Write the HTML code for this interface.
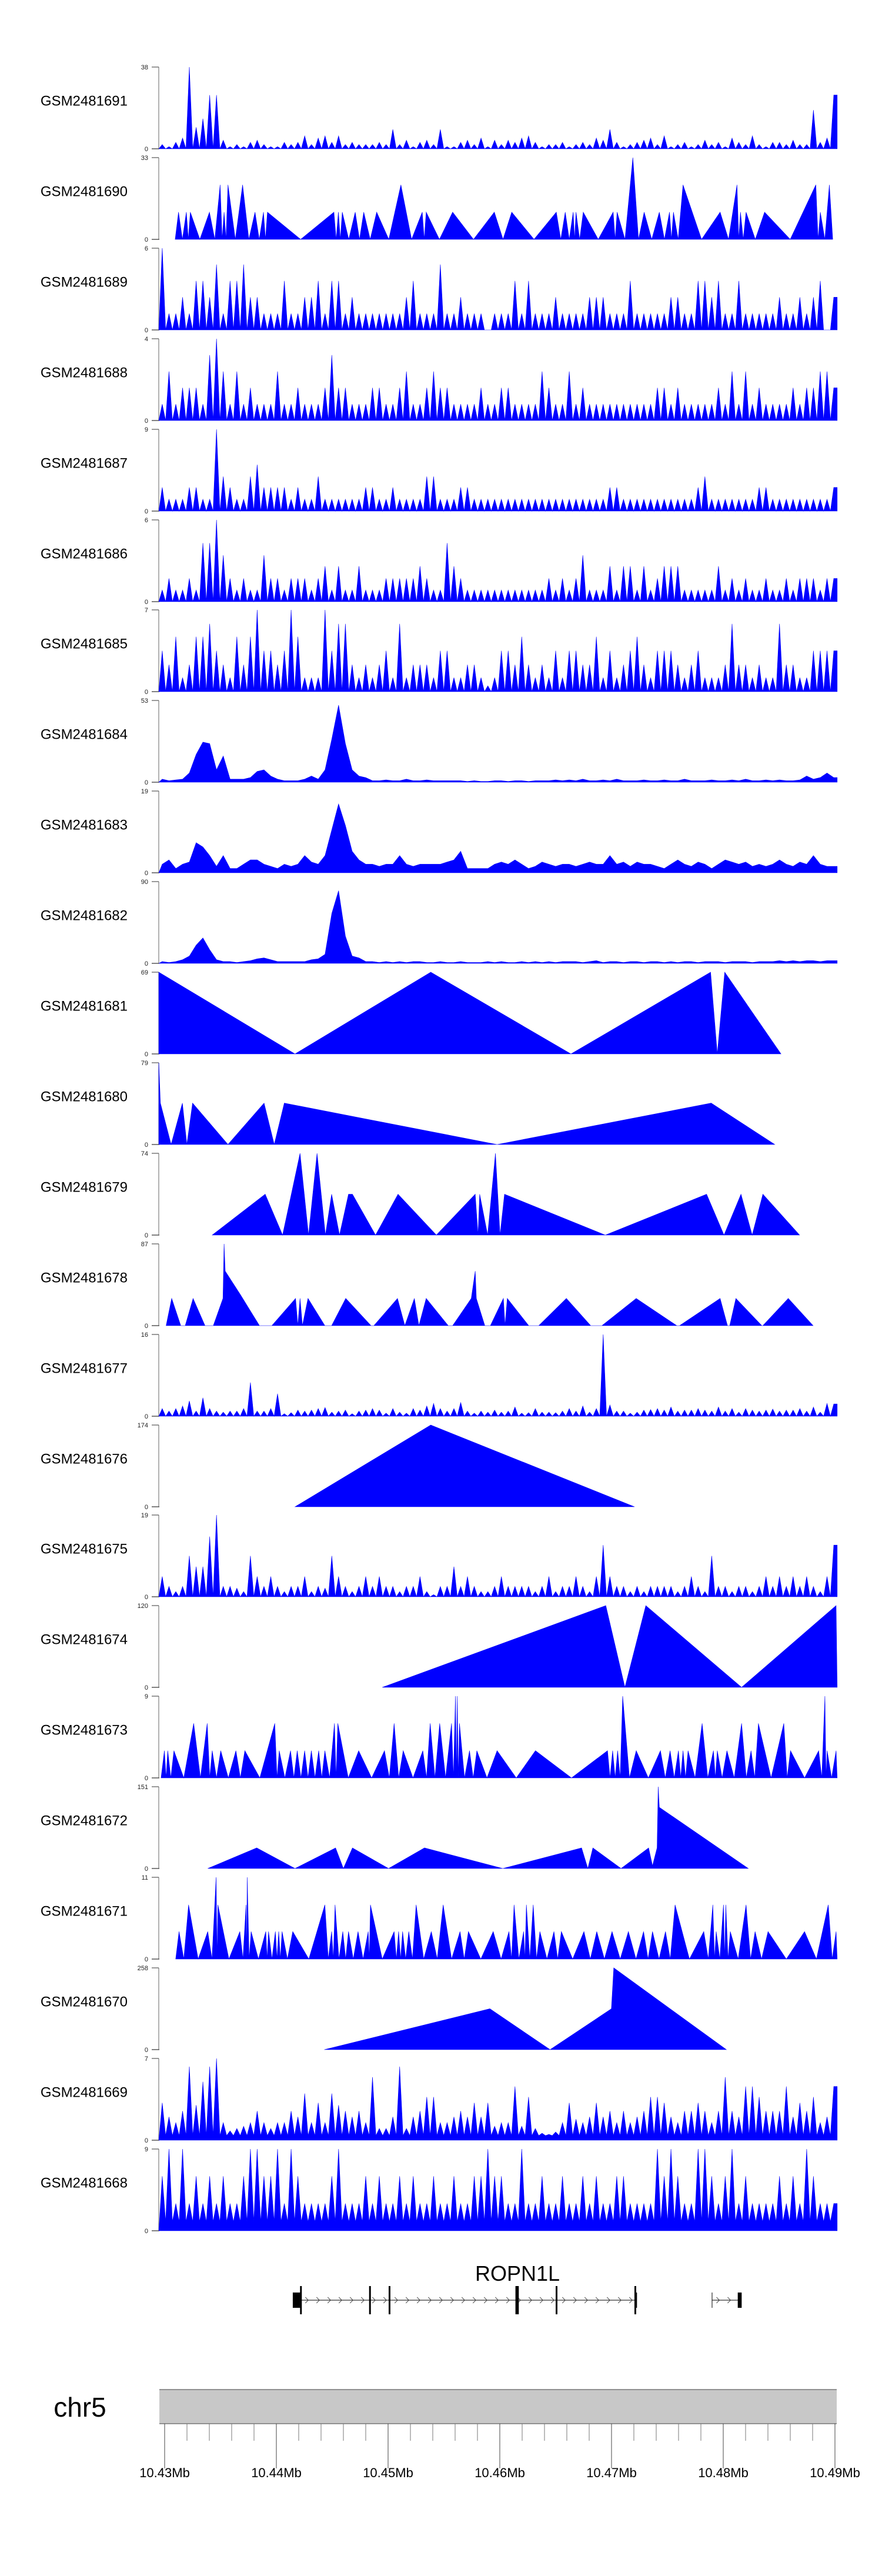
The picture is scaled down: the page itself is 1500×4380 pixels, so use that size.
<!DOCTYPE html>
<html><head><meta charset="utf-8"><title>Coverage tracks chr5</title>
<style>html,body{margin:0;padding:0;background:#fff;}svg{display:block;font-family:"Liberation Sans",Arial,sans-serif;}</style>
</head><body>
<svg id="chart" width="1500" height="4380" viewBox="0 0 1500 4380" xmlns="http://www.w3.org/2000/svg">
<g id="tracks"></g>
<g id="gene"></g>
<g id="ideo"></g>
</svg>
<script>
// ---- data (positions in kb offset from 10.43 Mb) ----
const d1691 = [2,1,3,5,38,10,14,25,25,4, 1,2,1,3,4,2,1,1,3,2, 3,6,2,5,6,3,6,2,3,2, 2,2,3,2,9,2,4,1,3,4, 2,9,1,1,3,4,2,5,1,4, 2,4,3,5,6,3,1,2,2,3, 1,2,3,2,5,4,9,3,1,2, 3,4,5,2,6,1,2,3,1,2, 4,2,3,1,5,3,2,6,2,1, 3,3,2,4,2,2,18,3,5,25];
const pk1690pos = [1.24,1.94,2.30,4.01,4.97,5.32,5.67,6.98,8.09,8.85,9.20,15.15,15.55,15.90,17.06,17.82,18.98,21.15,23.06,23.41,25.78,29.51,31.07,35.06,35.86,36.57,36.82,37.47,40.15,40.50,41.91,42.92,44.28,45.19,45.54,46.40,49.72,51.23,51.54,52.04,53.70,58.29,58.69,59.50];
const pk1690val = [11,11,11,11,22,11,22,22,11,11,11,11,11,11,11,11,11,22,11,11,11,11,11,11,11,11,11,11,11,11,33,11,11,11,11,22,11,22,11,11,11,22,11,22];
const d1689 = [6,1.2,1.2,2.4,1.2,3.6,3.6,2.4,4.8,1.2, 3.6,3.6,4.8,2.4,2.4,1.2,1.2,1.2,3.6,1.2, 1.2,2.4,2.4,3.6,1.2,3.6,3.6,1.2,2.4,1.2, 1.2,1.2,1.2,1.2,1.2,1.2,2.4,3.6,1.2,1.2, 1.2,4.8,1.2,1.2,2.4,1.2,1.2,1.2,0,1.2, 1.2,1.2,3.6,1.2,3.6,1.2,1.2,1.2,2.4,1.2, 1.2,1.2,1.2,2.4,2.4,2.4,1.2,1.2,1.2,3.6, 1.2,1.2,1.2,1.2,1.2,2.4,2.4,1.2,1.2,3.6, 3.6,2.4,3.6,1.2,1.2,3.6,1.2,1.2,1.2,1.2, 1.2,2.4,1.2,1.2,2.4,1.2,2.4,3.6,0,2.4];
const d1688 = [0.8,2.4,0.8,1.6,1.6,1.6,0.8,3.2,4,2.4, 0.8,2.4,0.8,1.6,0.8,0.8,0.8,2.4,0.8,0.8, 1.6,0.8,0.8,0.8,1.6,3.2,1.6,1.6,0.8,0.8, 0.8,1.6,1.6,0.8,0.8,1.6,2.4,0.8,0.8,1.6, 2.4,1.6,1.6,0.8,0.8,0.8,0.8,1.6,0.8,0.8, 1.6,1.6,0.8,0.8,0.8,0.8,2.4,1.6,0.8,0.8, 2.4,0.8,1.6,0.8,0.8,0.8,0.8,0.8,0.8,0.8, 0.8,0.8,0.8,1.6,1.6,0.8,1.6,0.8,0.8,0.8, 0.8,0.8,1.6,0.8,2.4,0.8,2.4,0.8,1.6,0.8, 0.8,0.8,0.8,1.6,0.8,1.6,1.6,2.4,2.4,1.6];
const d1687 = [2.6,1.3,1.3,1.3,2.6,2.6,1.3,1.3,9,3.8, 2.6,1.3,1.3,3.8,5.1,2.6,2.6,2.6,2.6,1.3, 2.6,1.3,1.3,3.8,1.3,1.3,1.3,1.3,1.3,1.3, 2.6,2.6,1.3,1.3,2.6,1.3,1.3,1.3,1.3,3.8, 3.8,1.3,1.3,1.3,2.6,2.6,1.3,1.3,1.3,1.3, 1.3,1.3,1.3,1.3,1.3,1.3,1.3,1.3,1.3,1.3, 1.3,1.3,1.3,1.3,1.3,1.3,2.6,2.6,1.3,1.3, 1.3,1.3,1.3,1.3,1.3,1.3,1.3,1.3,1.3,2.6, 3.8,1.3,1.3,1.3,1.3,1.3,1.3,1.3,2.6,2.6, 1.3,1.3,1.3,1.3,1.3,1.3,1.3,1.3,1.3,2.6];
const d1686 = [0.85,1.7,0.85,0.85,1.7,0.85,4.3,4.3,6,3.4, 1.7,0.85,1.7,0.85,0.85,3.4,1.7,1.7,0.85,1.7, 1.7,1.7,0.85,1.7,2.6,0.85,2.6,0.85,0.85,2.6, 0.85,0.85,0.85,1.7,1.7,1.7,1.7,1.7,2.6,1.7, 0.85,0.85,4.3,2.6,1.7,0.85,0.85,0.85,0.85,0.85, 0.85,0.85,0.85,0.85,0.85,0.85,0.85,1.7,0.85,1.7, 0.85,1.7,3.4,0.85,0.85,0.85,2.6,0.85,2.6,2.6, 0.85,2.6,0.85,1.7,2.6,2.6,2.6,0.85,0.85,0.85, 0.85,0.85,2.6,0.85,1.7,0.85,1.7,0.85,0.85,1.7, 0.85,0.85,1.7,0.85,1.7,1.7,1.7,0.85,1.7,1.7];
const d1685 = [3.5,2.3,4.7,1.2,2.3,4.7,4.7,5.8,3.5,2.3, 1.2,4.7,2.3,4.7,7,3.5,3.5,2.3,3.5,7, 4.7,1.2,1.2,1.2,7,3.5,5.8,5.8,2.3,1.2, 2.3,1.2,2.3,3.5,1.2,5.8,1.2,2.3,2.3,2.3, 1.2,3.5,3.5,1.2,1.2,2.3,2.3,1.2,0.5,1.2, 3.5,3.5,2.3,4.7,2.3,1.2,2.3,1.2,3.5,1.2, 3.5,3.5,2.3,2.3,4.7,1.2,3.5,1.2,2.3,3.5, 4.7,2.3,1.2,3.5,3.5,3.5,2.3,1.2,2.3,3.5, 1.2,1.2,1.2,2.3,5.8,2.3,2.3,1.2,2.3,1.2, 1.2,5.8,2.3,2.3,1.2,1.2,3.5,3.5,3.5,3.5];
const d1684 = [2,1,1.5,2,6,18,26,25,8,17, 2,2,2,3,7,8,4,2,1,1, 1,2,4,2,8,28,50,25,8,4, 3,1,1,1.5,1,1,2,1,1,1.5, 1,1,1,1,1,0.5,1,0.5,0.5,1, 1,0.5,1,1,0.5,1,1,1,1.5,1, 1.5,1,2,1,1,1.5,1,2,1,1, 1,1.5,1,1,1.5,1,1,2,1,1, 1,1.5,1,1,1.5,1,2,1,1,1.5, 1,1.5,1,1,1.5,4,2,3,6,3];
const d1683 = [2,3,1,2,2.5,7,6,4,1.5,4, 1,1,2,3,3,2,1.5,1,2,1.5, 2,4,2.5,2,4,10,16,11,5,3, 2,2,1.5,2,2,4,2,1.5,2,2, 2,2,2.5,3,5,1,1,1,1,2, 2.5,2,3,2,1,1.5,2.5,2,1.5,2, 2,1.5,2,2.5,2,2,4,2,2.5,1.5, 2.5,2,2,1.5,1,2,3,2,1.5,2.5, 2,1,2,3,2.5,2,2.5,1.5,2,1.5, 2,3,2,1.5,2.5,2,4,2,1.5,1.5];
const d1682 = [2,1,2,4,8,20,28,15,4,2, 2,1,2,3,5,6,4,2,2,2, 2,2,4,5,10,55,80,30,8,6, 2,2,1,2,1,2,1,2,2,1, 1,2,1,1,2,1,1,1,2,1, 2,1,1,2,1,2,1,2,1,2, 2,2,1,2,3,1,2,2,1,2, 2,1,2,2,1,2,1,2,2,1, 2,2,2,1,2,2,2,1,2,2, 2,3,2,3,2,3,3,2,3,3];
const p1681pos = [-0.52,11.67,23.82,36.37,48.87,49.47,50.13,55.17];
const p1681val = [69,0,69,0,69,0,69,0];
const p1680pos = [-0.52,-0.38,0.58,1.59,1.99,2.50,5.67,8.90,9.81,10.71,29.76,48.92,54.61];
const p1680val = [79,40,0,40,0,40,0,40,0,40,0,40,0];
const p1679pos = [4.26,9.00,10.56,12.12,12.88,13.64,14.39,14.95,15.65,16.46,16.81,18.88,20.89,24.32,27.80,28.05,28.20,28.91,29.61,30.02,30.42,39.44,48.51,50.07,51.59,52.59,53.55,56.83];
const p1679val = [0,37,0,74,0,74,0,37,0,37,37,0,37,0,37,0,37,0,74,0,37,0,37,0,37,0,37,0];
const p1678pos = [0.13,0.63,1.44,1.84,2.55,3.61,4.36,5.22,5.32,5.42,6.78,8.49,9.60,11.72,11.92,12.12,12.33,12.83,14.34,14.95,16.21,18.47,18.73,20.84,21.50,22.35,22.76,23.41,25.38,25.78,27.45,27.80,27.90,28.66,29.16,30.32,30.47,30.67,32.59,33.49,35.96,38.13,39.14,42.21,45.84,46.09,49.72,50.38,50.58,51.13,53.45,53.55,55.82,58.04];
const p1678val = [0,29,0,0,29,0,0,29,87,58,33,0,0,29,0,29,0,29,0,0,29,0,0,29,0,29,0,29,0,0,29,58,29,0,0,29,0,29,0,0,29,0,0,29,0,0,29,0,0,29,0,0,29,0];
const d1677 = [1.5,1,1.5,2,3,1,3.6,1.5,1,0.8, 1,1,1.5,6.6,1,1,1.5,4.4,0.5,0.7, 1.2,1,1.2,1.5,1.7,0.8,1,1.2,0.5,1, 1.2,1.5,1.2,0.6,1.5,0.8,0.6,1.5,1.2,2, 2.5,1.5,1,1.5,2.7,1,0.6,1,0.8,1.2, 0.8,1,1.8,0.6,0.7,1.5,0.8,0.8,0.7,1, 1.5,1,2,0.8,1.5,16,2.2,1,1,0.6, 0.8,1.2,1.3,1.5,1.2,1.8,1,1.2,1.2,1.5, 1.2,1,1.8,1,1.5,0.8,1.5,1.2,1,1.2, 1.4,1,1.2,1.2,1.5,1,1.8,0.8,2.5,2.4];
const p1676pos = [11.67,23.82,42.06];
const p1676val = [0,174,0];
const d1675 = [4.7,2.4,1.2,2.4,9.5,7,7,14,19,2.4, 2.4,2,1.2,9.5,4.7,2.4,4.7,2.4,1.2,2.4, 2.4,4.7,1.2,2.4,2,9.5,4.7,2.4,1.2,2.4, 4.7,2.4,4.7,2.4,2.4,1.2,2.4,2.4,4.7,1.2, 0.5,2.4,2.4,7,2.4,4.7,2.4,1.2,1.2,2.4, 4.7,2.4,2.4,2.4,2.4,1.2,2.4,4.7,1.2,2.4, 2.4,4.7,2.4,1.2,4.7,12,4.7,2.4,2.4,1.2, 2.4,1.2,2.4,2.4,2.4,2.4,1.2,2.4,4.7,2.4, 1.2,9.5,2.4,2.4,1.2,2.4,2.4,1.2,2.4,4.7, 2.4,4.7,2.4,4.7,2.4,4.7,2.4,1.2,4.7,12];
const p1674pos = [19.48,39.49,41.20,43.07,51.64,60.10,60.20];
const p1674val = [0,120,0,120,0,120,0];
const pk1673pos = [-0.02,0.28,0.83,2.60,3.81,4.26,5.02,6.38,7.18,9.86,10.26,11.27,11.87,12.53,13.13,13.79,14.34,15.20,15.50,17.37,19.68,20.54,21.35,23.11,23.77,24.62,25.68,26.03,26.19,26.39,27.29,27.95,29.76,33.19,39.64,40.10,40.55,41.00,42.21,44.38,45.24,45.99,46.40,46.85,48.11,49.12,49.47,50.33,51.64,52.49,53.15,55.42,56.02,58.54,59.10,59.30,60.10];
const pk1673val = [3,3,3,6,6,3,3,3,3,6,3,3,3,3,3,3,3,6,6,3,3,6,3,3,6,6,6,9,9,6,3,3,3,3,3,3,3,9,3,3,3,3,3,3,6,3,3,3,6,3,6,6,3,3,9,3,3];
const p1672pos = [3.86,8.24,11.67,15.30,16.00,16.81,20.04,23.26,30.27,37.32,37.88,38.33,40.85,43.32,43.67,44.08,44.18,44.28,52.24];
const p1672val = [0,38,0,38,0,38,0,38,0,38,0,38,0,38,5,38,151,113,0];
const pk1671pos = [1.29,2.14,3.86,4.61,4.77,6.73,7.29,7.39,7.74,9.05,9.30,9.91,10.21,10.51,11.47,14.34,14.95,15.25,15.95,16.46,17.31,18.22,18.42,20.54,20.94,21.30,21.85,22.51,23.87,24.93,26.44,27.19,29.41,30.82,31.28,32.13,32.38,32.99,33.59,34.85,35.51,37.53,38.68,40.05,41.51,42.87,43.67,44.83,45.69,48.26,49.07,49.37,50.02,50.23,50.63,52.04,52.85,54.01,57.28,59.40,60.10];
const pk1671val = [3.7,7.3,3.7,11,7.3,3.7,7.3,11,3.7,3.7,3.7,3.7,3.7,3.7,3.7,7.3,3.7,7.3,3.7,3.7,3.7,3.7,7.3,3.7,3.7,3.7,3.7,7.3,3.7,7.3,3.7,3.7,3.7,3.7,7.3,3.7,7.3,7.3,3.7,3.7,3.7,3.7,3.7,3.7,3.7,3.7,3.7,3.7,7.3,3.7,7.3,3.7,7.3,7.3,3.7,7.3,3.7,3.7,3.7,7.3,3.7];
const p1670pos = [14.29,29.11,34.50,39.99,40.20,50.28];
const p1670val = [0,129,0,129,258,0];
const d1669 = [3.2,2,1.5,2.5,6.3,3,5,6.3,7,1.5, 0.8,1,1.2,1.5,2.5,1.5,1,1.5,1.5,2.5, 2,4,1.5,3.2,1.5,4,3,2.5,2,2.5, 1.5,5.4,1,1,2,6.3,1,2,2.5,3.7, 3.7,1.5,1.5,2,2.5,2,3.2,2,3.2,1.2, 1.5,1.5,4.6,1.2,3.7,1,0.6,0.5,0.7,1.5, 3.2,1.8,1.5,2,3.2,2,2.5,1.5,2.5,1.5, 2,2.5,3.7,3.7,3.2,2,1.5,2.5,2.5,3.2, 2.5,1.5,2.5,5.4,2.5,2,4.6,4.6,3.7,2.5, 2.5,2.5,4.6,2,3.2,2.5,3.7,1.5,2,4.6];
const d1668 = [6,9,3,9,3,6,3,6,3,6, 3,3,6,9,9,6,6,9,3,9, 6,3,3,3,3,6,9,3,3,3, 6,3,6,3,3,6,3,6,3,3, 6,3,3,6,3,3,6,6,9,6, 6,3,3,9,3,3,6,3,3,6, 3,3,6,3,6,3,3,6,6,3, 3,3,3,9,6,9,6,3,3,9, 9,6,3,6,9,3,6,3,3,3, 3,6,3,6,3,9,6,3,3,3];
const trackNames = ['GSM2481691','GSM2481690','GSM2481689','GSM2481688','GSM2481687','GSM2481686','GSM2481685','GSM2481684','GSM2481683','GSM2481682','GSM2481681','GSM2481680','GSM2481679','GSM2481678','GSM2481677','GSM2481676','GSM2481675','GSM2481674','GSM2481673','GSM2481672','GSM2481671','GSM2481670','GSM2481669','GSM2481668'];
const trackMax = [38,33,6,4,9,6,7,53,19,90,69,79,74,87,16,174,19,120,9,151,11,258,7,9];
const axisTicksMb = [10.43,10.44,10.45,10.46,10.47,10.48,10.49];
const geneExonsKb = [[11.47,12.2],[18.3,18.45],[20.05,20.2],[31.4,31.7],[35.0,35.15],[42.05,42.2],[51.3,51.65]];

// ---- scales ----
const NS='http://www.w3.org/2000/svg';
const KB0=-0.52, KB1=60.2;
function xs(kb){return 280+kb*19;}
const PITCH=153.9, H=139, Z0=253;
function el(tag,attrs,parent){const e=document.createElementNS(NS,tag);for(const k in attrs)e.setAttribute(k,attrs[k]);parent.appendChild(e);return e;}

// floor: value drawn between bins (null = continuous line)
const specs=[
 {k:'dense',v:d1691,floor:0},{k:'peaks',p:pk1690pos,v:pk1690val},
 {k:'dense',v:d1689,floor:0},{k:'dense',v:d1688,floor:0},{k:'dense',v:d1687,floor:0},
 {k:'dense',v:d1686,floor:0},{k:'dense',v:d1685,floor:0},{k:'dense',v:d1684,floor:null},
 {k:'dense',v:d1683,floor:null},{k:'dense',v:d1682,floor:null},
 {k:'pts',p:p1681pos,v:p1681val},{k:'pts',p:p1680pos,v:p1680val},{k:'pts',p:p1679pos,v:p1679val},
 {k:'pts',p:p1678pos,v:p1678val},{k:'dense',v:d1677,floor:0},{k:'pts',p:p1676pos,v:p1676val},
 {k:'dense',v:d1675,floor:0},{k:'pts',p:p1674pos,v:p1674val},{k:'peaks',p:pk1673pos,v:pk1673val},
 {k:'pts',p:p1672pos,v:p1672val},{k:'peaks',p:pk1671pos,v:pk1671val},{k:'pts',p:p1670pos,v:p1670val},
 {k:'dense',v:d1669,floor:0.4},{k:'dense',v:d1668,floor:1}
];

const tg=document.getElementById('tracks');
specs.forEach((s,i)=>{
  const zero=Math.round(Z0+PITCH*i), top=zero-H, max=trackMax[i];
  const ys=v=>zero-(v/max)*H;
  const g=el('g',{},tg);
  
  
  const lab=el('text',{x:217,y:(top+zero)/2-4,'font-size':24,'text-anchor':'end',fill:'#000'},g);
  lab.textContent=trackNames[i];
  
  
  const ax=el('line',{x1:270,y1:top,x2:270,y2:zero,stroke:'#888','stroke-width':1.3},g);
  
  
  el('line',{x1:258,y1:top,x2:270,y2:top,stroke:'#333','stroke-width':1},g);
  el('line',{x1:258,y1:zero,x2:271,y2:zero,stroke:'#555','stroke-width':1.5},g);
  const tmax=el('text',{x:252,y:top+4,'font-size':11,'text-anchor':'end',fill:'#222'},g);
  tmax.textContent=String(max);
  
  
  const t0=el('text',{x:252,y:zero+4,'font-size':11,'text-anchor':'end',fill:'#222'},g);
  t0.textContent='0';
  
  
  let pts=[];
  if(s.k==='dense'){
    const n=s.v.length, w=(KB1-KB0)/n;
    pts.push([KB0,0]);
    s.v.forEach((v,j)=>{ if(s.floor!==null&&j>0) pts.push([KB0+j*w,Math.min(s.floor,v,s.v[j-1])]); pts.push([KB0+(j+0.5)*w,v]); });
    pts.push([KB1,s.v[n-1]]); pts.push([KB1,0]);
  } else if(s.k==='peaks'){
    const p=s.p, h=0.3;
    pts.push([Math.max(KB0,p[0]-h),0]);
    p.forEach((x,j)=>{ if(j>0) pts.push([(p[j-1]+x)/2,0]); pts.push([x,s.v[j]]); });
    pts.push([Math.min(KB1,p[p.length-1]+h),0]);
  } else {
    s.p.forEach((x,j)=>pts.push([x,s.v[j]]));
    pts.unshift([s.p[0],0]); pts.push([s.p[s.p.length-1],0]);
  }
  const d=pts.map((q,j)=>(j?'L':'M')+xs(q[0]).toFixed(1)+' '+ys(q[1]).toFixed(1)).join(' ')+' Z';
  const path=el('path',{d:d,fill:'#0000ff',stroke:'#0000ff','stroke-width':0.6,'stroke-linejoin':'miter'},g);
  
  
});

// ---- gene track ----
const gg=document.getElementById('gene');
const GY=3911;
const gl=el('line',{x1:xs(11.47),y1:GY,x2:xs(42.2),y2:GY,stroke:'#333','stroke-width':1.2},gg);


el('line',{x1:xs(49.0),y1:GY,x2:xs(51.5),y2:GY,stroke:'#333','stroke-width':1.2},gg);
function chevrons(a,b){for(let x=xs(a)+10;x<xs(b)-4;x+=19){el('path',{d:`M${x-2.5} ${GY-5} L${x+2.5} ${GY} L${x-2.5} ${GY+5}`,fill:'none',stroke:'#444','stroke-width':0.9},gg);}}
chevrons(12.2,42.1); chevrons(49.0,51.3);
geneExonsKb.forEach((e,j)=>{
  const short=(j===0||j===6);
  const r=el('rect',{x:xs(e[0]),y:short?GY-13:GY-24,width:Math.max(3,xs(e[1])-xs(e[0])),height:short?26:48,fill:'#000'},gg);
  
  
});
el('line',{x1:xs(12.2),y1:GY-24,x2:xs(12.2),y2:GY+24,stroke:'#000','stroke-width':3},gg);
el('line',{x1:xs(42.2),y1:GY-13,x2:xs(42.2),y2:GY+13,stroke:'#000','stroke-width':3},gg);
el('line',{x1:xs(49.0),y1:GY-13,x2:xs(49.0),y2:GY+13,stroke:'#000','stroke-width':1},gg);
const gt=el('text',{x:880,y:3878,'font-size':36,'text-anchor':'middle',fill:'#000'},gg);
gt.textContent='ROPN1L';



// ---- chromosome axis ----
const ig=document.getElementById('ideo');
const ch=el('text',{x:136,y:4109,'font-size':46,'text-anchor':'middle',fill:'#000'},ig);
ch.textContent='chr5';


const box=el('rect',{x:271,y:4063,width:1152,height:58,fill:'#c8c8c8'},ig);


el('line',{x1:271,y1:4063,x2:1423,y2:4063,stroke:'#777','stroke-width':1.5},ig);
el('line',{x1:271,y1:4121,x2:1423,y2:4121,stroke:'#777','stroke-width':1.5},ig);
for(let k=0;k<=30;k++){
  const x=xs(k*2), major=k%5===0;
  el('line',{x1:x,y1:4121,x2:x,y2:major?4197:4150,stroke:major?'#444':'#777','stroke-width':1},ig);
}
axisTicksMb.forEach(mb=>{
  const kb=Math.round((mb-10.43)*1000);
  const t=el('text',{x:xs(kb),y:4212,'font-size':22,'text-anchor':'middle',fill:'#000'},ig);
  t.textContent=mb.toFixed(2)+'Mb';
  
  
});
</script>
</body></html>
